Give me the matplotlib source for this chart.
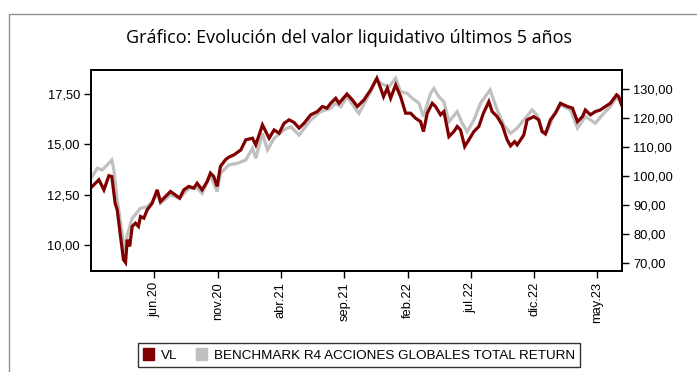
import numpy as np
import pandas as pd
import matplotlib
matplotlib.use("Agg")
import matplotlib.pyplot as plt
from matplotlib.patches import Patch, Rectangle
from matplotlib.ticker import FuncFormatter

plt.rcParams['font.family'] = ['Liberation Sans', 'DejaVu Sans']

# valor liquidativo (eje izq.)
vl_dates = ['2020-01-04','2020-01-20','2020-02-01','2020-02-13','2020-02-20','2020-02-28','2020-03-04','2020-03-12','2020-03-19','2020-03-24',
            '2020-03-28','2020-04-03','2020-04-09','2020-04-17','2020-04-24','2020-04-29','2020-05-07','2020-05-15','2020-05-27','2020-06-08',
            '2020-06-16','2020-06-28','2020-07-10','2020-07-21','2020-08-01','2020-08-11','2020-08-23','2020-09-04','2020-09-12','2020-09-24',
            '2020-10-06','2020-10-14','2020-10-22','2020-10-30','2020-11-07','2020-11-19','2020-11-27','2020-12-10','2020-12-26',
            '2021-01-07','2021-01-23','2021-01-31','2021-02-16','2021-03-04','2021-03-16','2021-03-28','2021-04-09','2021-04-21','2021-05-03','2021-05-15',
            '2021-05-27','2021-06-12','2021-06-28','2021-07-10','2021-07-21','2021-07-30','2021-08-11','2021-08-19','2021-09-07','2021-09-20',
            '2021-10-02','2021-10-18','2021-11-03','2021-11-18','2021-11-27','2021-12-04','2021-12-13','2021-12-21',
            '2022-01-02','2022-01-14','2022-01-26','2022-02-07','2022-02-19','2022-03-03','2022-03-10','2022-03-19','2022-03-31','2022-04-08','2022-04-20','2022-04-28',
            '2022-05-10','2022-05-22','2022-05-30','2022-06-07','2022-06-17','2022-06-27','2022-07-09','2022-07-21','2022-08-01','2022-08-14',
            '2022-08-22','2022-09-03','2022-09-15','2022-09-27','2022-10-05','2022-10-15','2022-10-21','2022-11-06','2022-11-14','2022-11-30',
            '2022-12-12','2022-12-20','2022-12-28',
            '2023-01-09','2023-01-21','2023-02-02','2023-02-19','2023-03-03','2023-03-15','2023-03-27',
            '2023-04-03','2023-04-15','2023-04-27','2023-05-09','2023-05-21','2023-06-02','2023-06-17','2023-06-22','2023-06-29']
vl_values = [12.90,13.23,12.73,13.43,13.39,12.07,11.74,10.42,9.27,9.13,
             10.26,9.93,10.92,11.08,10.92,11.41,11.33,11.74,12.07,12.73,
             12.15,12.40,12.65,12.49,12.32,12.73,12.90,12.82,13.06,12.73,
             13.14,13.56,13.39,12.90,13.89,14.22,14.35,14.47,14.71,
             15.21,15.29,14.96,15.95,15.29,15.70,15.54,16.03,16.20,16.07,15.79,
             16.03,16.45,16.61,16.86,16.78,17.02,17.27,17.02,17.48,17.19,
             16.86,17.19,17.68,18.26,17.77,17.35,17.77,17.27,
             17.93,17.35,16.53,16.53,16.28,16.11,15.62,16.53,17.02,16.86,16.45,16.61,
             15.37,15.62,15.87,15.70,14.88,15.21,15.62,15.87,16.53,17.10,
             16.61,16.36,15.95,15.21,14.91,15.12,14.96,15.45,16.20,16.36,
             16.20,15.62,15.50,
             16.20,16.53,17.02,16.86,16.78,16.11,16.36,
             16.69,16.45,16.61,16.69,16.86,17.02,17.44,17.35,16.94]

# benchmark (eje dcho.)
bm_dates = ['2020-01-04','2020-01-16','2020-01-28','2020-02-09','2020-02-20','2020-02-25','2020-03-04','2020-03-16','2020-03-23','2020-03-28',
            '2020-04-09','2020-04-29','2020-05-15','2020-05-27','2020-06-08','2020-06-16','2020-07-10','2020-08-01','2020-08-23','2020-09-12',
            '2020-09-24','2020-10-14','2020-10-30','2020-11-07','2020-11-27','2020-12-18',
            '2021-01-07','2021-01-23','2021-01-31','2021-02-16','2021-02-28','2021-03-16','2021-04-09','2021-04-25','2021-05-15','2021-06-12',
            '2021-07-06','2021-07-30','2021-08-11','2021-08-23','2021-09-08','2021-10-02','2021-10-06','2021-11-03','2021-11-15','2021-12-05','2021-12-17',
            '2022-01-02','2022-01-14','2022-01-30','2022-02-11','2022-02-27','2022-03-10','2022-03-27','2022-04-04','2022-04-16','2022-04-28',
            '2022-05-10','2022-05-30','2022-06-11','2022-06-23','2022-07-09','2022-07-25','2022-08-17','2022-09-03','2022-09-19','2022-10-05',
            '2022-10-21','2022-11-06','2022-11-26','2022-12-08','2022-12-20',
            '2023-01-01','2023-01-17','2023-02-02','2023-02-26','2023-03-15','2023-04-03','2023-04-27','2023-05-17','2023-06-02','2023-06-17','2023-06-29']
bm_values = [99.9,102.8,102.2,103.9,105.6,102.2,91.8,80.3,74.0,79.8,
             85.5,89.0,89.5,91.2,94.1,90.7,93.6,92.4,95.9,95.9,
             94.1,100.4,94.7,101.0,103.9,104.5,
             105.6,109.7,106.2,114.8,109.1,113.1,116.0,117.1,114.2,119.4,
             122.3,123.4,125.2,124.0,127.4,122.3,121.7,129.2,133.2,131.5,130.9,
             133.8,129.2,128.6,126.9,125.2,120.6,128.6,130.3,127.4,125.7,
             118.8,122.3,118.3,115.4,119.4,125.2,129.8,122.9,117.7,114.8,
             116.6,119.4,122.9,121.1,115.4,
             115.4,121.1,124.6,122.9,116.6,120.6,118.3,121.7,124.0,127.4,125.2]

tick_dates = ['2020-06-01','2020-11-01','2021-04-01','2021-09-01','2022-02-01','2022-07-01','2022-12-01','2023-05-01']
tick_labels = ['jun.20','nov.20','abr.21','sep.21','feb.22','jul.22','dic.22','may.23']

red = '#800000'
grey = '#c0c0c0'

def coma(v, pos):
    return f"{v:.2f}".replace('.', ',')

fig = plt.figure(figsize=(6.97, 3.72), dpi=100)
fig.patches.append(Rectangle((9/697, -0.1), 1.2, 1.1 - 14/372, transform=fig.transFigure,
                             fill=False, edgecolor='#909090', linewidth=1.0))

ax = fig.add_axes([91/697, 1 - 271/372, 531/697, 201/372])
ax2 = ax.twinx()

ax2.plot(pd.to_datetime(bm_dates), bm_values, color=grey, linewidth=2.3, solid_joinstyle='miter')
ax.plot(pd.to_datetime(vl_dates), vl_values, color=red, linewidth=2.3, solid_joinstyle='miter')
ax.set_zorder(ax2.get_zorder() + 1)
ax.patch.set_visible(False)

ax.set_xlim(pd.Timestamp('2020-01-01'), pd.Timestamp('2023-06-30'))
ax.set_ylim(8.71, 18.67)
ax2.set_ylim(67.35, 136.65)
ax.set_yticks([10, 12.5, 15, 17.5])
ax2.set_yticks([70, 80, 90, 100, 110, 120, 130])
ax.yaxis.set_major_formatter(FuncFormatter(coma))
ax2.yaxis.set_major_formatter(FuncFormatter(coma))
ax.set_xticks(pd.to_datetime(tick_dates))
ax.set_xticklabels(tick_labels, rotation=90)

for a in (ax, ax2):
    for s in a.spines.values():
        s.set_linewidth(1.3)
    a.tick_params(labelsize=9.3, length=5, width=1, direction='out', pad=3)

fig.text(0.5, 1 - 38/372, 'Gráfico: Evolución del valor liquidativo últimos 5 años',
         ha='center', va='center', fontsize=13, family=['Open Sans', 'DejaVu Sans'])

handles = [Patch(facecolor=red, edgecolor=red), Patch(facecolor=grey, edgecolor=grey)]
leg = fig.legend(handles, ['VL', 'BENCHMARK R4 ACCIONES GLOBALES TOTAL RETURN'],
                 loc='center', bbox_to_anchor=(359/697, 1 - 355/372), ncol=2, fontsize=9.7,
                 frameon=True, fancybox=False, edgecolor='black', handlelength=0.8, handleheight=1.0,
                 handletextpad=0.5, columnspacing=1.4, borderpad=0.4)
leg.get_frame().set_linewidth(1.0)

fig.savefig('out.png', dpi=100)
